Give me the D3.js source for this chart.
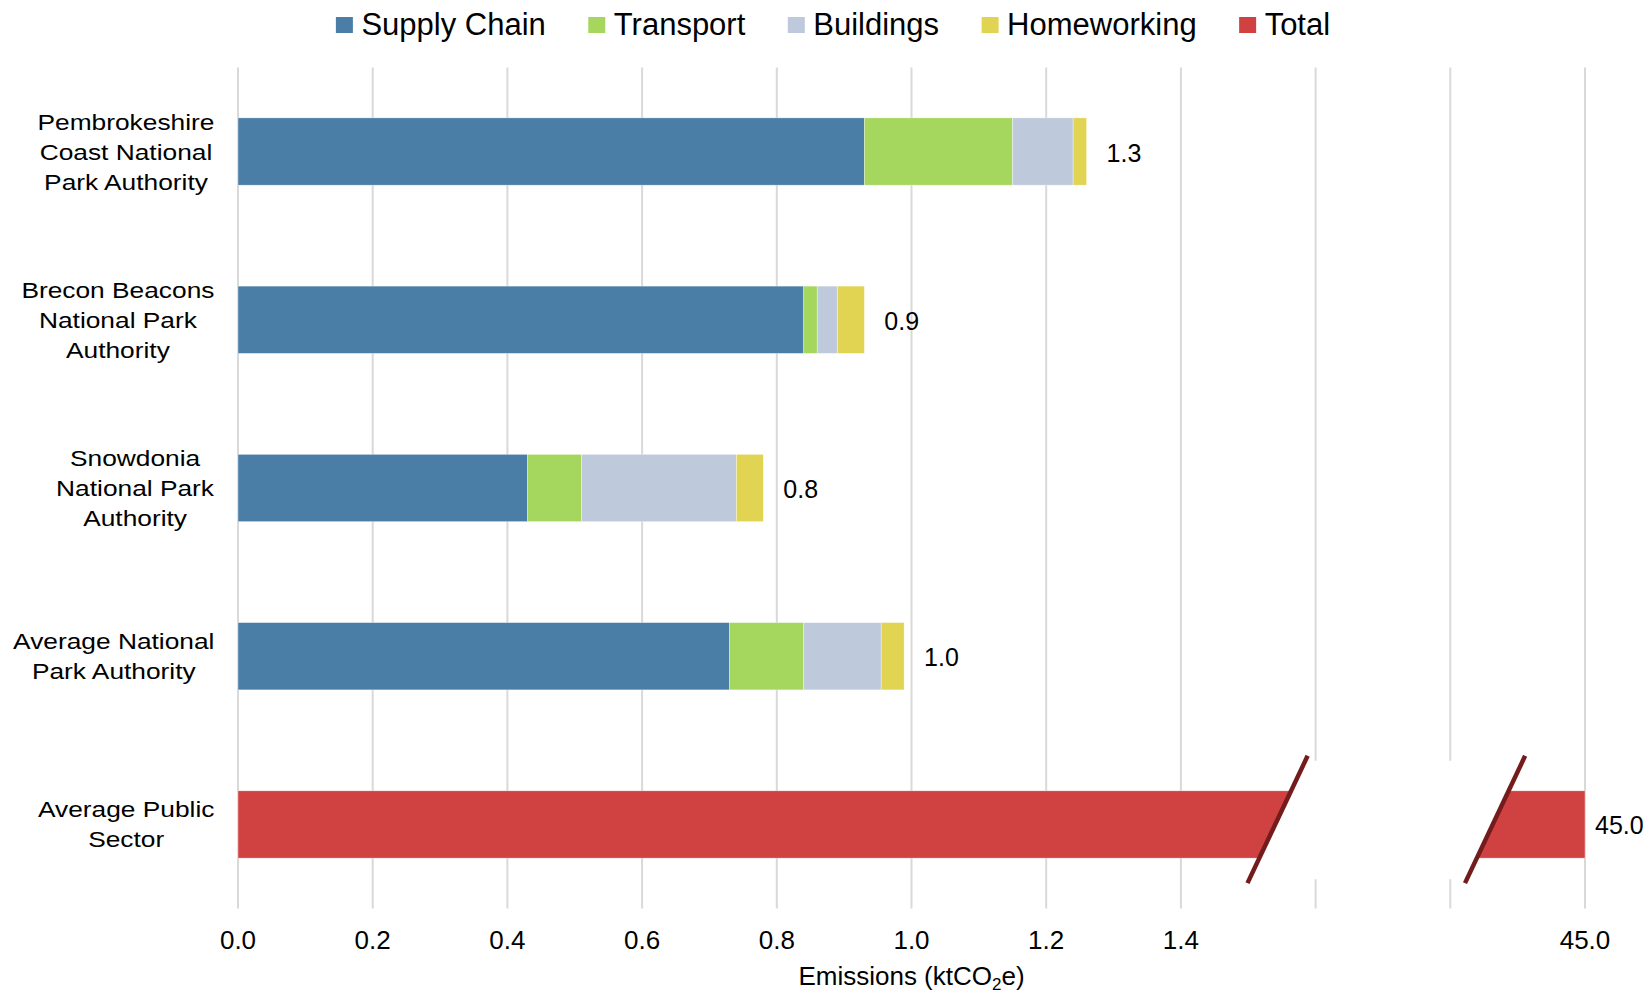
<!DOCTYPE html>
<html>
<head>
<meta charset="utf-8">
<script src="https://cdn.jsdelivr.net/npm/d3@7"></script>
<style>
  html, body { margin: 0; padding: 0; background: #fff; }
  svg { display: block; }
  text { font-family: "Liberation Sans", Arial, Helvetica, sans-serif; fill: #000; }
</style>
</head>
<body>
<svg id="chart" width="1652" height="993"></svg>
<script>
// ---------- data ----------
const categories = [
  "Pembrokeshire|Coast National|Park Authority",
  "Brecon Beacons|National Park|Authority",
  "Snowdonia|National Park|Authority",
  "Average National|Park Authority",
  "Average Public|Sector"
];
const seriesNames = ["Supply Chain", "Transport", "Buildings", "Homeworking", "Total"];
const supplyChain = [0.93, 0.84, 0.43, 0.73, 0];
const transport   = [0.22, 0.02, 0.08, 0.11, 0];
const buildings   = [0.09, 0.03, 0.23, 0.115, 0];
const homeworking = [0.02, 0.04, 0.04, 0.034, 0];
const total       = [0, 0, 0, 0, 45.0];
const tickValues  = [0, 0.2, 0.4, 0.6, 0.8, 1.0, 1.2, 1.4, 45];
const gridValues  = [0, 0.2, 0.4, 0.6, 0.8, 1.0, 1.2, 1.4, 1.6, 1.8, 45];
const axisBreak   = [1.54, 15.4];   // axis values where the Total bar is cut
const colors = ["#4a7ea6", "#a5d65e", "#bec9db", "#e1d452", "#d04141"];

// ---------- layout ----------
const svg = d3.select("#chart");
const plot = { left: 238, right: 1585, top: 67.4, bottom: 908.6 };

// piecewise scale: linear up to 1.8, compressed last step to 45
const step = (plot.right - plot.left) / 10;
const x = d3.scaleLinear()
  .domain([0, 1.8, 45])
  .range([plot.left, plot.left + 9 * step, plot.right]);

const y = d3.scaleBand()
  .domain(categories)
  .range([plot.top, plot.bottom])
  .paddingInner(0.6)
  .paddingOuter(0.3);

const table = categories.map((c, i) => ({
  cat: c,
  "Supply Chain": supplyChain[i],
  "Transport": transport[i],
  "Buildings": buildings[i],
  "Homeworking": homeworking[i],
  "Total": total[i]
}));
const stacked = d3.stack().keys(seriesNames)(table);
const color = d3.scaleOrdinal().domain(seriesNames).range(colors);
const rowSum = d => seriesNames.reduce((s, k) => s + d[k], 0);

// ---------- gridlines ----------
svg.append("g").selectAll("line").data(gridValues).join("line")
  .attr("x1", d => x(d)).attr("x2", d => x(d))
  .attr("y1", plot.top).attr("y2", plot.bottom)
  .attr("stroke", "#d9d9d9").attr("stroke-width", 2);

// ---------- bars ----------
svg.append("g").selectAll("g").data(stacked).join("g")
  .attr("fill", d => color(d.key))
  .selectAll("rect").data(d => d.filter(s => s[1] - s[0] > 0)).join("rect")
  .attr("x", d => x(d[0]))
  .attr("width", d => x(d[1]) - x(d[0]))
  .attr("y", d => y(d.data.cat))
  .attr("height", y.bandwidth())
  .attr("stroke", "#ffffff").attr("stroke-width", 0.6).attr("stroke-opacity", 0.6);

// ---------- axis break on the Total bar ----------
const breakCat = categories[categories.length - 1];
const bTop = y(breakCat), bBot = y(breakCat) + y.bandwidth(), bMid = (bTop + bBot) / 2;
const slope = 60 / 127; // dx per dy of the break strokes
const xAt = (v, yy) => x(v) - (yy - bMid) * slope;
const gapTop = bTop - 30, gapBot = bBot + 21;
svg.append("path")
  .attr("d", d3.line()([
    [xAt(axisBreak[0], gapTop), gapTop], [xAt(axisBreak[1], gapTop), gapTop],
    [xAt(axisBreak[1], gapBot), gapBot], [xAt(axisBreak[0], gapBot), gapBot]
  ]) + "Z")
  .attr("fill", "#ffffff");
const lnTop = bTop - 35, lnBot = bBot + 25;
svg.append("g").selectAll("line").data(axisBreak).join("line")
  .attr("x1", d => xAt(d, lnBot)).attr("y1", lnBot)
  .attr("x2", d => xAt(d, lnTop)).attr("y2", lnTop)
  .attr("stroke", "#741c1c").attr("stroke-width", 4.5);

// ---------- data labels ----------
const fmt = d3.format(".1f");
svg.append("g").selectAll("text").data(table).join("text")
  .attr("x", d => x(rowSum(d)) + (d["Total"] > 0 ? 10 : 20))
  .attr("y", d => y(d.cat) + y.bandwidth() / 2 + 10)
  .attr("font-size", 25)
  .text(d => fmt(rowSum(d)));

// ---------- x tick labels ----------
svg.append("g").selectAll("text").data(tickValues).join("text")
  .attr("x", d => x(d)).attr("y", 949)
  .attr("text-anchor", "middle").attr("font-size", 26)
  .text(d => fmt(d));

// ---------- x axis title ----------
const title = svg.append("text")
  .attr("x", (plot.left + plot.right) / 2).attr("y", 985)
  .attr("text-anchor", "middle").attr("font-size", 26);
title.append("tspan").text("Emissions (ktCO");
title.append("tspan").attr("font-size", 17).attr("dy", 5).text("2");
title.append("tspan").attr("dy", -5).text("e)");

// ---------- category labels (centered lines, right-aligned block) ----------
const labelRight = 214.5, scaleX = 1.17, lineH = 30;
categories.forEach(c => {
  const lines = c.split("|");
  const g = svg.append("g");
  const t = g.append("text").attr("font-size", 22.5).attr("text-anchor", "middle");
  lines.forEach((ln, i) => {
    t.append("tspan").attr("x", 0)
      .attr("y", (i - (lines.length - 1) / 2) * lineH + 8)
      .text(ln);
  });
  const w = t.node().getBBox().width * scaleX;
  const cy = y(c) + y.bandwidth() / 2;
  g.attr("transform", `translate(${labelRight - w / 2},${cy}) scale(${scaleX},1)`);
});

// ---------- legend ----------
const legend = svg.append("g");
let lx = 0;
const legendGap = 42.5;
seriesNames.forEach((name, i) => {
  const item = legend.append("g").attr("transform", `translate(${lx},0)`);
  item.append("rect").attr("x", 0).attr("y", 17).attr("width", 17).attr("height", 16)
    .attr("fill", colors[i]);
  const t = item.append("text").attr("x", 25.5).attr("y", 34.5)
    .attr("font-size", 31).text(name);
  lx += 25.5 + t.node().getComputedTextLength() + legendGap;
});
const legendW = lx - legendGap;
legend.attr("transform", `translate(${833 - legendW / 2},0)`);
</script>
</body>
</html>
